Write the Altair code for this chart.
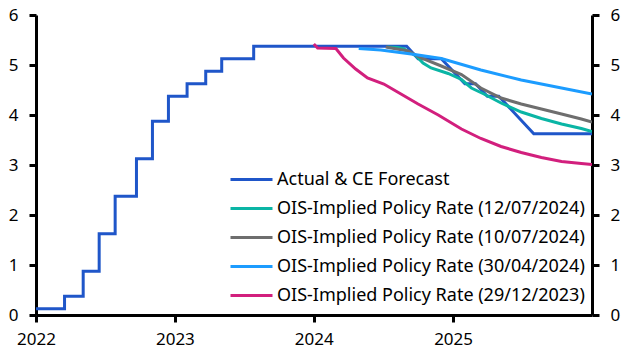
import altair as alt
import pandas as pd

series_names = [
    "Actual & CE Forecast",
    "OIS-Implied Policy Rate (12/07/2024)",
    "OIS-Implied Policy Rate (10/07/2024)",
    "OIS-Implied Policy Rate (30/04/2024)",
    "OIS-Implied Policy Rate (29/12/2023)",
]
colors = ["#1f56c9", "#0ab5a5", "#6e6e6e", "#1c9cff", "#d21f7d"]

actual_dates = [
    "2022-01-01", "2022-03-17", "2022-03-17", "2022-05-05", "2022-05-05",
    "2022-06-16", "2022-06-16", "2022-07-28", "2022-07-28", "2022-09-22",
    "2022-09-22", "2022-11-03", "2022-11-03", "2022-12-15", "2022-12-15",
    "2023-02-02", "2023-02-02", "2023-03-23", "2023-03-23", "2023-05-04",
    "2023-05-04", "2023-07-27", "2023-07-27", "2024-09-01", "2024-10-01",
    "2024-12-01", "2025-02-01", "2025-03-01", "2025-04-01", "2025-05-01",
    "2025-08-01", "2026-01-01",
]
actual_values = [
    0.125, 0.125, 0.375, 0.375, 0.875,
    0.875, 1.625, 1.625, 2.375, 2.375,
    3.125, 3.125, 3.875, 3.875, 4.375,
    4.375, 4.625, 4.625, 4.875, 4.875,
    5.125, 5.125, 5.375, 5.375, 5.125,
    5.125, 4.625, 4.625, 4.375, 4.375,
    3.625, 3.625,
]

ois_jul12_dates = [
    "2024-07-12", "2024-08-09", "2024-08-25", "2024-09-26", "2024-10-14",
    "2024-11-04", "2024-12-19", "2025-01-23", "2025-02-18", "2025-03-23",
    "2025-05-07", "2025-06-29", "2025-08-21", "2025-10-13", "2025-12-04",
    "2026-01-01",
]
ois_jul12_values = [
    5.36, 5.35, 5.32, 5.18, 5.04,
    4.94, 4.83, 4.71, 4.54, 4.42,
    4.24, 4.06, 3.93, 3.82, 3.73,
    3.67,
]

ois_jul10_dates = [
    "2024-07-08", "2024-09-05", "2024-10-09", "2024-12-01", "2025-01-23",
    "2025-03-15", "2025-05-07", "2025-06-29", "2025-08-21", "2025-10-13",
    "2025-12-04", "2026-01-01",
]
ois_jul10_values = [
    5.36, 5.28, 5.14, 4.98, 4.81,
    4.54, 4.34, 4.22, 4.12, 4.02,
    3.92, 3.86,
]

ois_apr30_dates = [
    "2024-04-28", "2024-06-25", "2024-09-13", "2024-12-01", "2025-03-15",
    "2025-06-29", "2025-10-13", "2026-01-01",
]
ois_apr30_values = [5.33, 5.30, 5.22, 5.13, 4.90, 4.70, 4.54, 4.42]

ois_dec29_dates = [
    "2024-01-01", "2024-01-11", "2024-02-28", "2024-03-19", "2024-04-20",
    "2024-05-21", "2024-07-03", "2024-08-17", "2024-10-01", "2024-11-23",
    "2025-01-23", "2025-03-15", "2025-05-07", "2025-06-29", "2025-08-21",
    "2025-10-13", "2025-12-04", "2026-01-01",
]
ois_dec29_values = [
    5.42, 5.34, 5.33, 5.14, 4.92,
    4.74, 4.62, 4.42, 4.22, 4.00,
    3.72, 3.53, 3.37, 3.25, 3.15,
    3.07, 3.03, 3.01,
]

all_dates = [actual_dates, ois_jul12_dates, ois_jul10_dates, ois_apr30_dates, ois_dec29_dates]
all_values = [actual_values, ois_jul12_values, ois_jul10_values, ois_apr30_values, ois_dec29_values]

rows = []
for name, ds, vs in zip(series_names, all_dates, all_values):
    for i, (d, v) in enumerate(zip(ds, vs)):
        rows.append({"series": name, "date": d, "value": v, "order": i})
df = pd.DataFrame(rows)

FONT = "Noto Sans"


def dt(y):
    return alt.DateTime(year=y, month=1, date=1, utc=True)


x_enc = alt.X(
    "date:T",
    scale=alt.Scale(type="utc", domain=[dt(2022), dt(2026)]),
    axis=alt.Axis(
        values=[dt(2022), dt(2023), dt(2024), dt(2025)],
        format="%Y",
        formatType="utc",
        title=None,
        labelPadding=9,
        labelFlush=False,
    ),
)

legend = alt.Legend(
    title=None,
    orient="none",
    legendX=193,
    legendY=150,
    symbolType="stroke",
    symbolSize=1764,
    symbolStrokeWidth=3,
    labelFontSize=18,
    labelFont=FONT,
    labelColor="black",
    labelLimit=0,
    labelOffset=3,
    rowPadding=0,
    clipHeight=29,
)

color_enc = alt.Color(
    "series:N",
    scale=alt.Scale(domain=series_names, range=colors),
    legend=legend,
)

layers = []
for idx, name in enumerate(series_names):
    if idx == 0:
        yaxis = alt.Axis(orient="left", values=[0, 1, 2, 3, 4, 5, 6], title=None, labelPadding=11)
    elif idx == len(series_names) - 1:
        yaxis = alt.Axis(orient="right", values=[0, 1, 2, 3, 4, 5, 6], title=None, labelPadding=11)
    else:
        yaxis = None
    layer = (
        alt.Chart(df)
        .transform_filter(alt.datum.series == name)
        .mark_line(strokeWidth=3, clip=True)
        .encode(
            x=x_enc,
            y=alt.Y("value:Q", scale=alt.Scale(domain=[0, 6]), axis=yaxis),
            color=color_enc,
            order=alt.Order("order:Q"),
        )
    )
    layers.append(layer)

chart = (
    alt.layer(*layers)
    .resolve_axis(y="independent")
    .properties(
        width=556,
        height=300,
        autosize="none",
        padding={"left": 36, "top": 15, "right": 34, "bottom": 39},
    )
    .configure_view(stroke=None)
    .configure_axis(
        domainColor="black",
        domainWidth=3,
        tickColor="black",
        tickWidth=3,
        tickSize=7,
        labelFontSize=17,
        labelFont=FONT,
        labelColor="black",
        grid=False,
    )
)

chart.save("out.html", embed_options={"renderer": "svg", "actions": False})
